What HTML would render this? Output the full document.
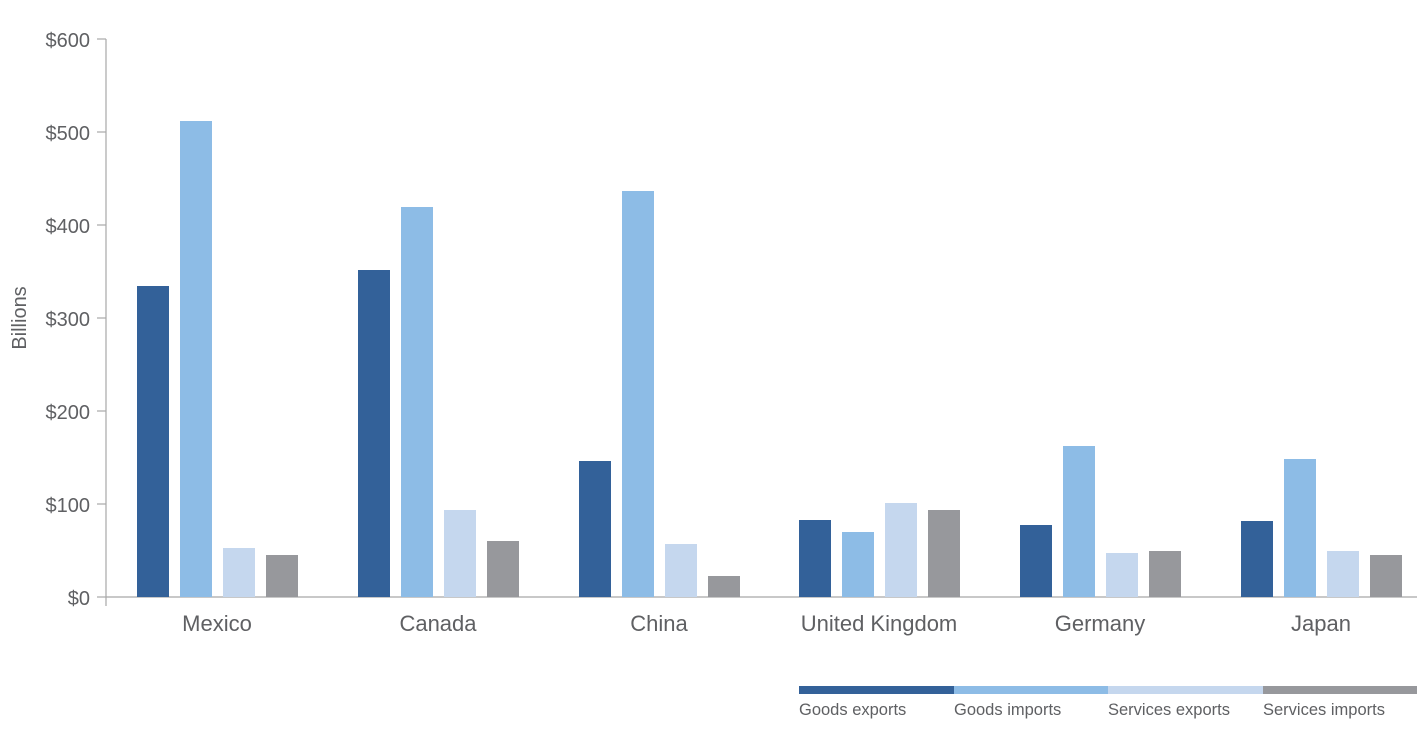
<!DOCTYPE html>
<html><head><meta charset="utf-8"><style>
html,body{margin:0;padding:0;background:#fff;}
svg{display:block;font-family:"Liberation Sans",sans-serif;}
</style></head><body>
<svg width="1417" height="750" viewBox="0 0 1417 750" xmlns="http://www.w3.org/2000/svg">
<g fill="#5f6063" font-size="20" text-anchor="end">
<text x="90" y="47">$600</text>
<text x="90" y="140">$500</text>
<text x="90" y="233">$400</text>
<text x="90" y="326">$300</text>
<text x="90" y="419">$200</text>
<text x="90" y="512">$100</text>
<text x="90" y="605">$0</text>
</g>
<text transform="translate(26,318) rotate(-90)" fill="#5f6063" font-size="20" text-anchor="middle">Billions</text>
<g stroke="#a8a8a8" stroke-width="1.2">
<line x1="106" y1="39" x2="106" y2="606"/>
<line x1="106" y1="597" x2="1417" y2="597"/>
<line x1="97" y1="39" x2="106" y2="39"/>
<line x1="97" y1="132" x2="106" y2="132"/>
<line x1="97" y1="225" x2="106" y2="225"/>
<line x1="97" y1="318" x2="106" y2="318"/>
<line x1="97" y1="411" x2="106" y2="411"/>
<line x1="97" y1="504" x2="106" y2="504"/>
<line x1="97" y1="597" x2="106" y2="597"/>
</g>
<g fill="#5f6063" font-size="22" text-anchor="middle">
<text x="217" y="631">Mexico</text>
<text x="438" y="631">Canada</text>
<text x="659" y="631">China</text>
<text x="879" y="631">United Kingdom</text>
<text x="1100" y="631">Germany</text>
<text x="1321" y="631">Japan</text>
</g>
<rect x="799" y="686" width="155" height="8" fill="#336199"/>
<rect x="954" y="686" width="155" height="8" fill="#8dbce6"/>
<rect x="1108" y="686" width="155" height="8" fill="#c5d7ee"/>
<rect x="1263" y="686" width="154" height="8" fill="#97989c"/>
<g fill="#5f6063" font-size="16.5">
<text x="799" y="715">Goods exports</text>
<text x="954" y="715">Goods imports</text>
<text x="1108" y="715">Services exports</text>
<text x="1263" y="715">Services imports</text>
</g>
<rect x="137" y="286" width="32" height="311" fill="#336199"/>
<rect x="180" y="121" width="32" height="476" fill="#8dbce6"/>
<rect x="223" y="548" width="32" height="49" fill="#c5d7ee"/>
<rect x="266" y="555" width="32" height="42" fill="#97989c"/>
<rect x="358" y="270" width="32" height="327" fill="#336199"/>
<rect x="401" y="207" width="32" height="390" fill="#8dbce6"/>
<rect x="444" y="510" width="32" height="87" fill="#c5d7ee"/>
<rect x="487" y="541" width="32" height="56" fill="#97989c"/>
<rect x="579" y="461" width="32" height="136" fill="#336199"/>
<rect x="622" y="191" width="32" height="406" fill="#8dbce6"/>
<rect x="665" y="544" width="32" height="53" fill="#c5d7ee"/>
<rect x="708" y="576" width="32" height="21" fill="#97989c"/>
<rect x="799" y="520" width="32" height="77" fill="#336199"/>
<rect x="842" y="532" width="32" height="65" fill="#8dbce6"/>
<rect x="885" y="503" width="32" height="94" fill="#c5d7ee"/>
<rect x="928" y="510" width="32" height="87" fill="#97989c"/>
<rect x="1020" y="525" width="32" height="72" fill="#336199"/>
<rect x="1063" y="446" width="32" height="151" fill="#8dbce6"/>
<rect x="1106" y="553" width="32" height="44" fill="#c5d7ee"/>
<rect x="1149" y="551" width="32" height="46" fill="#97989c"/>
<rect x="1241" y="521" width="32" height="76" fill="#336199"/>
<rect x="1284" y="459" width="32" height="138" fill="#8dbce6"/>
<rect x="1327" y="551" width="32" height="46" fill="#c5d7ee"/>
<rect x="1370" y="555" width="32" height="42" fill="#97989c"/>
</svg>
</body></html>
